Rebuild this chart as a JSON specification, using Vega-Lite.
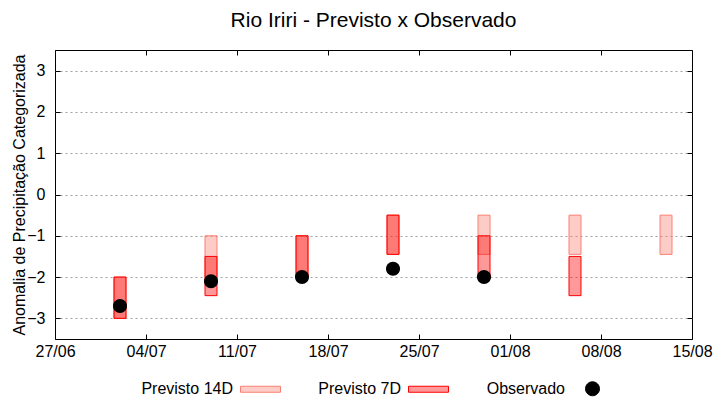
{
  "$schema": "https://vega.github.io/schema/vega-lite/v6.json",
  "width": 637,
  "height": 289,
  "autosize": "none",
  "padding": {"left": 55, "top": 50, "right": 28, "bottom": 61},
  "background": "white",
  "title": {"text": "Rio Iriri - Previsto x Observado", "fontSize": 21, "font": "Liberation Sans", "fontWeight": "normal", "offset": 19, "color": "black", "frame": "group", "anchor": "middle"},
  "config": {
    "font": "Liberation Sans",
    "view": {"stroke": "black", "strokeWidth": 1},
    "axis": {
      "labelFont": "Liberation Sans", "labelFontSize": 16, "labelColor": "black",
      "titleFont": "Liberation Sans", "titleFontSize": 16, "titleFontWeight": "normal", "titleColor": "black",
      "domain": false, "tickColor": "black", "tickSize": -5, "tickWidth": 1,
      "gridColor": "#a0a0a0", "gridDash": [2, 3], "gridOpacity": 1, "gridWidth": 1,
      "labelFlush": false, "labelOverlap": false
    }
  },
  "datasets": {
    "fc": [
      {"date": "2023-07-02T00:00:00", "series": "Previsto 14D", "lo": -3, "hi": -2},
      {"date": "2023-07-09T00:00:00", "series": "Previsto 14D", "lo": -2, "hi": -1},
      {"date": "2023-07-16T00:00:00", "series": "Previsto 14D", "lo": -2, "hi": -1},
      {"date": "2023-07-23T00:00:00", "series": "Previsto 14D", "lo": -1.45, "hi": -0.5},
      {"date": "2023-07-30T00:00:00", "series": "Previsto 14D", "lo": -1.45, "hi": -0.5},
      {"date": "2023-08-06T00:00:00", "series": "Previsto 14D", "lo": -1.45, "hi": -0.5},
      {"date": "2023-08-13T00:00:00", "series": "Previsto 14D", "lo": -1.45, "hi": -0.5},
      {"date": "2023-07-02T00:00:00", "series": "Previsto 7D", "lo": -3, "hi": -2},
      {"date": "2023-07-09T00:00:00", "series": "Previsto 7D", "lo": -2.45, "hi": -1.5},
      {"date": "2023-07-16T00:00:00", "series": "Previsto 7D", "lo": -2, "hi": -1},
      {"date": "2023-07-23T00:00:00", "series": "Previsto 7D", "lo": -1.45, "hi": -0.5},
      {"date": "2023-07-30T00:00:00", "series": "Previsto 7D", "lo": -2, "hi": -1},
      {"date": "2023-08-06T00:00:00", "series": "Previsto 7D", "lo": -2.45, "hi": -1.5}
    ],
    "obs": [
      {"date": "2023-07-02T00:00:00", "series": "Observado", "value": -2.7},
      {"date": "2023-07-09T00:00:00", "series": "Observado", "value": -2.1},
      {"date": "2023-07-16T00:00:00", "series": "Observado", "value": -2.0},
      {"date": "2023-07-23T00:00:00", "series": "Observado", "value": -1.8},
      {"date": "2023-07-30T00:00:00", "series": "Observado", "value": -2.0}
    ]
  },
  "layer": [
    {
      "data": {"name": "fc"},
      "mark": {"type": "bar", "width": 12, "fillOpacity": 0.4, "strokeWidth": 1, "strokeOpacity": 1},
      "encoding": {
        "x": {
          "field": "date", "type": "temporal",
          "scale": {"domain": [{"year": 2023, "month": 6, "date": 27}, {"year": 2023, "month": 8, "date": 15}], "padding": 0},
          "axis": {
            "orient": "bottom", "title": null, "format": "%d/%m", "grid": false, "labelPadding": 9,
            "values": [
              {"year": 2023, "month": 6, "date": 27}, {"year": 2023, "month": 7, "date": 4},
              {"year": 2023, "month": 7, "date": 11}, {"year": 2023, "month": 7, "date": 18},
              {"year": 2023, "month": 7, "date": 25}, {"year": 2023, "month": 8, "date": 1},
              {"year": 2023, "month": 8, "date": 8}, {"year": 2023, "month": 8, "date": 15}
            ]
          }
        },
        "y": {
          "field": "lo", "type": "quantitative",
          "scale": {"domain": [-3.5, 3.5], "nice": false, "zero": false},
          "axis": {"orient": "left", "title": "Anomalia de Precipitação Categorizada", "values": [-3, -2, -1, 0, 1, 2, 3], "grid": true, "labelPadding": 15, "titlePadding": -1}
        },
        "y2": {"field": "hi"},
        "fill": {
          "field": "series", "type": "nominal",
          "scale": {"domain": ["Previsto 14D", "Previsto 7D", "Observado"], "range": ["#fa8072", "#ff0000", "#000000"]},
          "legend": {
            "title": null, "orient": "none", "legendX": 185, "legendY": 318, "direction": "horizontal",
            "symbolSize": 1600, "labelFontSize": 16, "labelFont": "Liberation Sans", "labelColor": "black",
            "labelAlign": "right", "labelOffset": -48, "columnPadding": 35, "symbolStrokeWidth": 1,
            "encode": {"symbols": {"update": {"fillOpacity": {"signal": "datum.value === 'Observado' ? 1 : 0.4"}, "strokeOpacity": {"value": 1}, "opacity": {"value": 1}}}}
          }
        },
        "stroke": {
          "field": "series", "type": "nominal",
          "scale": {"domain": ["Previsto 14D", "Previsto 7D", "Observado"], "range": ["#fa8072", "#ff0000", "#000000"]},
          "legend": {
            "title": null, "orient": "none", "legendX": 185, "legendY": 318, "direction": "horizontal",
            "symbolSize": 1600, "labelFontSize": 16, "labelFont": "Liberation Sans", "labelColor": "black",
            "labelAlign": "right", "labelOffset": -48, "columnPadding": 35, "symbolStrokeWidth": 1,
            "encode": {"symbols": {"update": {"fillOpacity": {"signal": "datum.value === 'Observado' ? 1 : 0.4"}, "strokeOpacity": {"value": 1}, "opacity": {"value": 1}}}}
          }
        }
      }
    },
    {
      "data": {"name": "obs"},
      "mark": {"type": "point", "filled": true, "size": 1600, "opacity": 1, "strokeWidth": 0},
      "encoding": {
        "x": {
          "field": "date", "type": "temporal",
          "axis": {
            "orient": "top", "title": null, "labels": false, "grid": false,
            "values": [
              {"year": 2023, "month": 6, "date": 27}, {"year": 2023, "month": 7, "date": 4},
              {"year": 2023, "month": 7, "date": 11}, {"year": 2023, "month": 7, "date": 18},
              {"year": 2023, "month": 7, "date": 25}, {"year": 2023, "month": 8, "date": 1},
              {"year": 2023, "month": 8, "date": 8}, {"year": 2023, "month": 8, "date": 15}
            ]
          }
        },
        "y": {
          "field": "value", "type": "quantitative",
          "axis": {"orient": "right", "title": null, "labels": false, "grid": false, "values": [-3, -2, -1, 0, 1, 2, 3]}
        },
        "fill": {"field": "series", "type": "nominal"},
        "stroke": {"field": "series", "type": "nominal"},
        "shape": {
          "field": "series", "type": "nominal",
          "scale": {"domain": ["Previsto 14D", "Previsto 7D", "Observado"], "range": ["M-1,-0.15L1,-0.15L1,0.15L-1,0.15Z", "M-1,-0.15L1,-0.15L1,0.15L-1,0.15Z", "M0.35,0A0.35,0.35,0,1,1,-0.35,0A0.35,0.35,0,1,1,0.35,0Z"]},
          "legend": {
            "title": null, "orient": "none", "legendX": 185, "legendY": 318, "direction": "horizontal",
            "symbolSize": 1600, "labelFontSize": 16, "labelFont": "Liberation Sans", "labelColor": "black",
            "labelAlign": "right", "labelOffset": -48, "columnPadding": 35, "symbolStrokeWidth": 1,
            "encode": {"symbols": {"update": {"fillOpacity": {"signal": "datum.value === 'Observado' ? 1 : 0.4"}, "strokeOpacity": {"value": 1}, "opacity": {"value": 1}}}}
          }
        }
      }
    }
  ],
  "resolve": {"axis": {"x": "independent", "y": "independent"}}
}
